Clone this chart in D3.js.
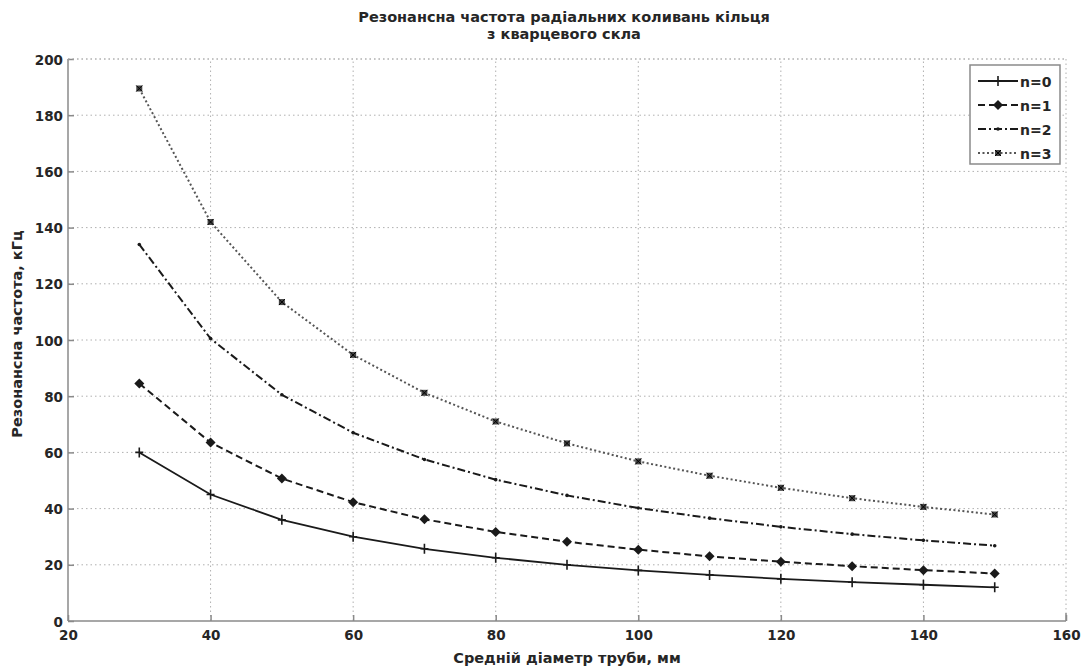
<!DOCTYPE html>
<html>
<head>
<meta charset="utf-8">
<script src="https://cdn.jsdelivr.net/npm/d3@7"></script>
<style>
  body { margin: 0; background: #fff; }
  svg { font-family: "DejaVu Sans", sans-serif; }
</style>
</head>
<body>
<main></main>
<script>
const diameters = [30, 40, 50, 60, 70, 80, 90, 100, 110, 120, 130, 140, 150]
const n0 = [60, 45, 36, 30, 25.7, 22.5, 20, 18, 16.4, 15, 13.8, 12.9, 12]
const n1 = [84.5, 63.5, 50.7, 42.3, 36.2, 31.7, 28.2, 25.4, 23, 21.1, 19.5, 18.1, 16.9]
const n2 = [134, 100.5, 80.5, 67, 57.5, 50.3, 44.7, 40.2, 36.6, 33.5, 30.9, 28.7, 26.8]
const n3 = [189.5, 142, 113.5, 94.7, 81.2, 71, 63.2, 56.8, 51.7, 47.4, 43.7, 40.6, 37.9]
const seriesNames = ["n=0", "n=1", "n=2", "n=3"]
const xTicks = [20, 40, 60, 80, 100, 120, 140, 160]
const yTicks = [0, 20, 40, 60, 80, 100, 120, 140, 160, 180, 200]

const series = [n0, n1, n2, n3].map((vals, i) => ({
  name: seriesNames[i],
  points: vals.map((v, k) => ({ x: diameters[k], y: v })),
}))

const dashes = ["none", "7,4", "8,3,2,3", "2,2.5"]
const ink = "#1a1a1a"
const textFill = "#262626"

const w = 1085
const h = 670
const margin = { top: 59, right: 19, bottom: 49, left: 68 }

const svg = d3.select("main").append("svg").attr("width", w).attr("height", h)

const x = d3.scaleLinear().domain([20, 160]).range([margin.left, w - margin.right])
const y = d3.scaleLinear().domain([0, 200]).range([h - margin.bottom, margin.top])

// grid
svg.append("g")
  .selectAll("line")
  .data(xTicks.slice(1, -1))
  .enter()
  .append("line")
  .attr("x1", (d) => x(d)).attr("x2", (d) => x(d))
  .attr("y1", y(0)).attr("y2", y(200))
  .attr("stroke", "#b0b0b0").attr("stroke-dasharray", "1.5,3")

svg.append("g")
  .selectAll("line")
  .data(yTicks.slice(1))
  .enter()
  .append("line")
  .attr("x1", x(20)).attr("x2", x(160))
  .attr("y1", (d) => y(d)).attr("y2", (d) => y(d))
  .attr("stroke", "#b0b0b0").attr("stroke-dasharray", "1.5,3")

// axes
const xAxis = svg.append("g")
  .attr("transform", `translate(0,${y(0)})`)
  .call(d3.axisBottom(x).tickValues(xTicks).tickSize(-6).tickPadding(9))
const yAxis = svg.append("g")
  .attr("transform", `translate(${x(20)},0)`)
  .call(d3.axisLeft(y).tickValues(yTicks).tickSize(-6).tickPadding(5))

;[xAxis, yAxis].forEach((a) => {
  a.select(".domain").remove()
  a.selectAll("line").attr("stroke", "#8a8a8a").attr("stroke-width", 1.5)
  a.selectAll("text")
    .attr("fill", textFill)
    .attr("font-size", "13.5px")
    .attr("font-weight", "bold")
    .style("font-family", '"DejaVu Sans", sans-serif')
})
yAxis.selectAll("text").attr("dy", "0.38em")

// box: solid left/bottom, dotted top/right
svg.append("line")
  .attr("x1", x(20)).attr("x2", x(160)).attr("y1", y(0)).attr("y2", y(0))
  .attr("stroke", "#8a8a8a").attr("stroke-width", 1.5)
svg.append("line")
  .attr("x1", x(20)).attr("x2", x(20)).attr("y1", y(0)).attr("y2", y(200))
  .attr("stroke", "#8a8a8a").attr("stroke-width", 1.5)
svg.append("line")
  .attr("x1", x(20)).attr("x2", x(160)).attr("y1", y(200)).attr("y2", y(200))
  .attr("stroke", "#b0b0b0").attr("stroke-dasharray", "1.5,3")
svg.append("line")
  .attr("x1", x(160)).attr("x2", x(160)).attr("y1", y(200)).attr("y2", y(0) - 8)
  .attr("stroke", "#b0b0b0").attr("stroke-dasharray", "1.5,3")
svg.append("line")
  .attr("x1", x(160)).attr("x2", x(160)).attr("y1", y(0) - 8).attr("y2", y(0))
  .attr("stroke", "#8a8a8a").attr("stroke-width", 1.5)

// markers
const drawMarker = (g, i, cx, cy) => {
  if (i === 0) {
    g.append("path")
      .attr("d", `M${cx - 4},${cy}H${cx + 4}M${cx},${cy - 5}V${cy + 5}`)
      .attr("stroke", ink).attr("stroke-width", 1.6)
  } else if (i === 1) {
    g.append("path")
      .attr("d", `M${cx},${cy - 5}L${cx + 5},${cy}L${cx},${cy + 5}L${cx - 5},${cy}Z`)
      .attr("fill", ink)
  } else if (i === 2) {
    g.append("circle").attr("cx", cx).attr("cy", cy).attr("r", 1.8).attr("fill", ink)
  } else {
    g.append("rect").attr("x", cx - 3).attr("y", cy - 3).attr("width", 6).attr("height", 6)
      .attr("fill", "#444")
    g.append("path")
      .attr("d", `M${cx - 3},${cy - 3}L${cx + 3},${cy + 3}M${cx + 3},${cy - 3}L${cx - 3},${cy + 3}`)
      .attr("stroke", "#000").attr("stroke-width", 1)
  }
}

const line = d3.line().x((d) => x(d.x)).y((d) => y(d.y))

series.forEach((s, i) => {
  const g = svg.append("g")
  g.append("path")
    .attr("d", line(s.points))
    .attr("fill", "none")
    .attr("stroke", i === 3 ? "#555" : ink)
    .attr("stroke-width", i === 0 ? 1.8 : 2)
    .attr("stroke-dasharray", dashes[i])
  s.points.forEach((p) => drawMarker(g, i, x(p.x), y(p.y)))
})

// legend
const lg = svg.append("g").attr("transform", "translate(970,65)")
lg.append("rect").attr("width", 90).attr("height", 99)
  .attr("fill", "#fff").attr("stroke", "#8a8a8a").attr("stroke-width", 1.5)
series.forEach((s, i) => {
  const yy = 16 + i * 24
  lg.append("line").attr("x1", 8).attr("x2", 48).attr("y1", yy).attr("y2", yy)
    .attr("stroke", i === 3 ? "#555" : ink).attr("stroke-width", 2)
    .attr("stroke-dasharray", dashes[i])
  drawMarker(lg, i, 28, yy)
  lg.append("text").attr("x", 50).attr("y", yy + 5.5)
    .attr("font-size", "14px").attr("font-weight", "bold").attr("fill", textFill)
    .text(s.name)
})

// titles
const cx = (x(20) + x(160)) / 2
const title = svg.append("text").attr("text-anchor", "middle")
  .attr("font-size", "14.5px").attr("font-weight", "bold").attr("fill", textFill)
title.append("tspan").attr("x", cx - 3).attr("y", 22)
  .text("Резонансна частота радіальних коливань кільця")
title.append("tspan").attr("x", cx - 3).attr("y", 39)
  .text("з кварцевого скла")

svg.append("text").attr("text-anchor", "middle")
  .attr("x", cx).attr("y", 663)
  .attr("font-size", "14.5px").attr("font-weight", "bold").attr("fill", textFill)
  .text("Средній діаметр труби, мм")

svg.append("text").attr("text-anchor", "middle")
  .attr("transform", `translate(22,${(y(0) + y(200)) / 2 - 6}) rotate(-90)`)
  .attr("font-size", "14.5px").attr("font-weight", "bold").attr("fill", textFill)
  .text("Резонансна частота, кГц")
</script>
</body>
</html>
